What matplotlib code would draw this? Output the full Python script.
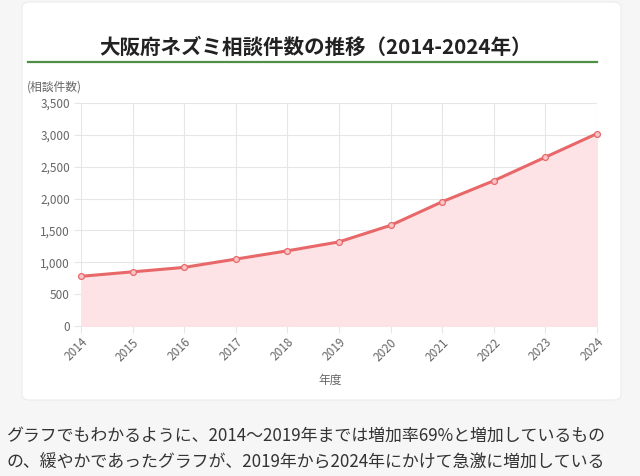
import matplotlib
matplotlib.use("Agg")
import matplotlib.pyplot as plt
from matplotlib.patches import FancyBboxPatch
from matplotlib.lines import Line2D
from matplotlib.ticker import FuncFormatter, MultipleLocator

plt.rcParams['font.family'] = ['Noto Sans CJK JP', 'DejaVu Sans']

# data
years = [2014, 2015, 2016, 2017, 2018, 2019, 2020, 2021, 2022, 2023, 2024]
counts = [780, 850, 920, 1050, 1180, 1320, 1580, 1950, 2280, 2650, 3020]
year_labels = [str(y) for y in years]

title = "大阪府ネズミ相談件数の推移（2014-2024年）"
y_title = "(相談件数)"
x_title = "年度"
body = ["グラフでもわかるように、2014～2019年までは増加率69%と増加しているもの",
        "の、緩やかであったグラフが、2019年から2024年にかけて急激に増加している"]

line_col = "#e8686a"
fill_col = "#fde3e5"
grid_col = "#e6e6e6"
tick_col = "#666666"

fig = plt.figure(figsize=(6.4, 4.76), dpi=100)
fig.patch.set_facecolor("#f6f6f6")

# white card
card = FancyBboxPatch((22 / 640, 1 - 400 / 476), 599 / 640, 398 / 476,
                      boxstyle="round,pad=0,rounding_size=0.012",
                      transform=fig.transFigure, facecolor="white",
                      edgecolor="#ececec", linewidth=0.8, zorder=-5)
fig.add_artist(card)

fig.text(316 / 640, 1 - 47 / 476, title, ha="center", va="center",
         fontsize=14.8, fontweight="bold", color="#222222")
fig.add_artist(Line2D([28 / 640, 597 / 640], [1 - 62 / 476, 1 - 62 / 476],
                      transform=fig.transFigure, color="#4e8f45", lw=1.6))

ax = fig.add_axes([81 / 640, 1 - 326 / 476, 516 / 640, 223 / 476])
ax.set_zorder(2)
ax.set_facecolor("white")

ax.fill_between(years, counts, 0, color=fill_col, zorder=1)
ax.plot(years, counts, color=line_col, lw=2.2, zorder=3)
ax.plot(years, counts, "o", ms=4.2, mfc="#f9c4c5", mec=line_col, mew=0.9,
        zorder=4, clip_on=False)

ax.set_xlim(2014, 2024)
ax.set_ylim(0, 3500)
ax.yaxis.set_major_locator(MultipleLocator(500))
ax.yaxis.set_major_formatter(FuncFormatter(lambda v, p: f"{int(v):,}"))
ax.set_xticks(years)
ax.set_xticklabels(year_labels, rotation=45, ha="right",
                   rotation_mode="anchor")

ax.grid(True, color=grid_col, lw=0.8, zorder=0)
ax.set_axisbelow(True)
for s in ax.spines.values():
    s.set_visible(False)
ax.axhline(0, color="#dddddd", lw=0.8, zorder=2)
ax.tick_params(axis="both", colors=grid_col, labelcolor=tick_col,
               labelsize=8.5, length=5, width=0.8)
ax.tick_params(axis="y", pad=3)
ax.tick_params(axis="x", pad=2)

fig.text(27 / 640, 1 - 87 / 476, y_title, ha="left", va="center",
         fontsize=8.5, color=tick_col)
fig.text(330 / 640, 1 - 380 / 476, x_title, ha="center", va="center",
         fontsize=8.5, color=tick_col)

fig.text(6 / 640, 1 - 436 / 476, body[0], ha="left", va="center",
         fontsize=12.2, color="#333333")
fig.text(6 / 640, 1 - 462 / 476, body[1], ha="left", va="center",
         fontsize=12.2, color="#333333")

fig.savefig("out.png", dpi=100, facecolor=fig.get_facecolor())
